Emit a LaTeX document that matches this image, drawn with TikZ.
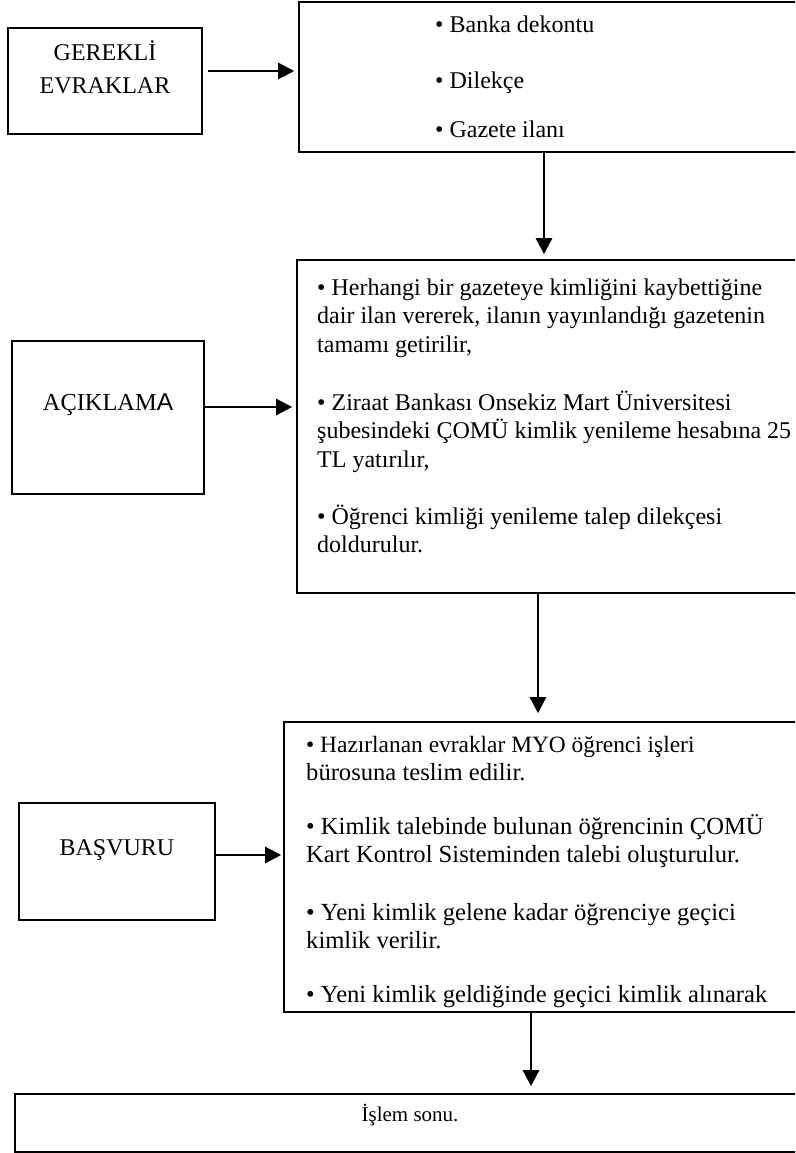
\documentclass[tikz,border=0pt]{standalone}
\usepackage{fontspec}
\setmainfont{Liberation Serif}
\newfontfamily\arialfont{Liberation Sans}
\usetikzlibrary{arrows.meta, calc}

\newcommand{\ust}{\rule{0pt}{24pt}}

\tikzset{
  kutu/.style={draw, line width=1.6pt, inner sep=0pt},
  ok/.style={line width=2.5pt, -{Triangle[length=16pt,width=16pt]}},
  para/.style={anchor=north west, inner sep=0pt, align=left, font=\fontsize{24.6}{28.5}\selectfont},
  etiket/.style={anchor=base, inner sep=0pt, font=\fontsize{24}{28.5}\selectfont}
}

\begin{document}
\begin{tikzpicture}[x=1pt, y=-1pt]
    \useasboundingbox (0,0) rectangle (795,1153);
    \clip (0,0) rectangle (795,1153);
    % kutular
    \node[kutu, minimum width=194, minimum height=106] (gerekli) at (105,81) {};
    \node[kutu, minimum width=546, minimum height=150] (evrak) at (572,77) {};
    \node[kutu, minimum width=192, minimum height=153] (aciklama) at (108,417.5) {};
    \node[kutu, minimum width=548, minimum height=333] (detay) at (571,426.5) {};
    \node[kutu, minimum width=196, minimum height=117] (basvuru) at (117,861.5) {};
    \node[kutu, minimum width=561, minimum height=290] (islem) at (564.5,867) {};
    \node[kutu, minimum width=830, minimum height=58] (son) at (430,1123) {};
    % yazilar
    \node[anchor=north, inner sep=0pt, align=center, font=\fontsize{24}{33}\selectfont] (tGerekli) at (105,36) {\ust GEREKLİ\\EVRAKLAR};
    \node[etiket, anchor=base west] (b1) at (435,33) {• Banka dekontu};
    \node[etiket, anchor=base west] (b2) at (435,89) {• Dilekçe};
    \node[etiket, anchor=base west] (b3) at (435,138) {• Gazete ilanı};
    \node[etiket, font=\fontsize{24.4}{28.5}\selectfont] (tAciklama) at (108,410) {AÇIKLAM{\arialfont A}};
    \node[para, font=\fontsize{24}{28.7}\selectfont] (p1) at (317,271) {\ust• Herhangi bir gazeteye kimliğini kaybettiğine\\dair ilan vererek, ilanın yayınlandığı gazetenin\\tamamı getirilir,};
    \node[para, font=\fontsize{24}{28.7}\selectfont] (p2) at (317,386) {\ust• Ziraat Bankası Onsekiz Mart Üniversitesi\\şubesindeki ÇOMÜ kimlik yenileme hesabına 25\\TL yatırılır,};
    \node[para, font=\fontsize{24}{28.7}\selectfont] (p3) at (317,500) {\ust• Öğrenci kimliği yenileme talep dilekçesi\\doldurulur.};
    \node[etiket] (tBasvuru) at (117,855) {BAŞVURU};
    \node[para] (q1) at (306,728) {\ust{\fontsize{23.4}{28.5}\selectfont • Hazırlanan evraklar MYO öğrenci işleri}\\bürosuna teslim edilir.};
    \node[para] (q2) at (306,810) {\ust• Kimlik talebinde bulunan öğrencinin ÇOMÜ\\Kart Kontrol Sisteminden talebi oluşturulur.};
    \node[para] (q3) at (306,896) {\ust• Yeni kimlik gelene kadar öğrenciye geçici\\kimlik verilir.};
    \node[para] (q4) at (306,978) {\ust• Yeni kimlik geldiğinde geçici kimlik alınarak};
    \node[etiket, font=\fontsize{21}{28.5}\selectfont] (tSon) at (410,1121) {İşlem sonu.};
    % oklar
    \draw[ok] ($(gerekli.east)+(5,-10)$) -- ($(gerekli.east -| evrak.west)+(-4,-10)$);
    \draw[ok] ($(evrak.south)+(-28,0)$) -- ($(evrak.south |- detay.north)+(-28,-5)$);
    \draw[ok] ($(aciklama.east)+(0,-10.5)$) -- ($(aciklama.east -| detay.west)+(-4,-10.5)$);
    \draw[ok] ($(detay.south)+(-33,0)$) -- ($(detay.south |- islem.north)+(-33,-8)$);
    \draw[ok] ($(basvuru.east)+(0,-6.5)$) -- ($(basvuru.east -| islem.west)+(-2,-6.5)$);
    \draw[ok] ($(islem.south)+(-33.5,0)$) -- ($(islem.south |- son.north)+(-33.5,-7)$);
\end{tikzpicture}
\end{document}
